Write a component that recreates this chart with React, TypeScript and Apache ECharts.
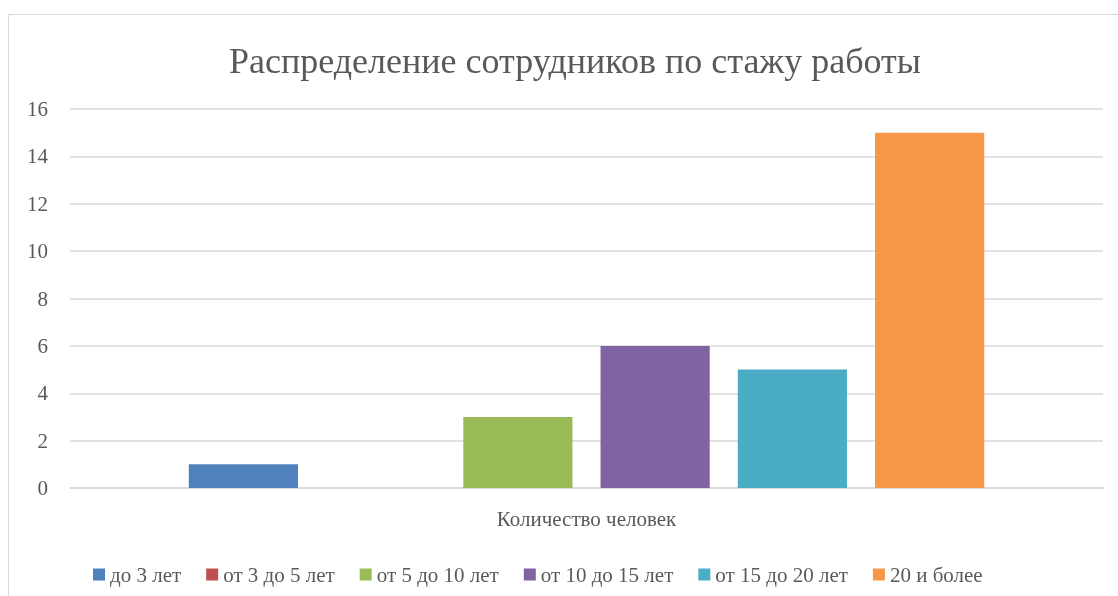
import React, { useEffect, useRef } from "react";
import * as echarts from "echarts";

const titleText = "Распределение сотрудников по стажу работы";
const categories = ["Количество человек"];
const seriesNames = ["до 3 лет", "от 3 до 5 лет", "от 5 до 10 лет", "от 10 до 15 лет", "от 15 до 20 лет", "20 и более"];
const seriesValues = [1, 0, 3, 6, 5, 15];
const seriesColors = ["#4F81BD", "#C0504D", "#9BBB59", "#8064A2", "#4BACC6", "#F79646"];
const yTicks = { min: 0, max: 16, interval: 2 };

const FONT = "Liberation Serif";
const TEXT = "#595959";

export default function App() {
  const ref = useRef<HTMLDivElement>(null);
  useEffect(() => {
    if (!ref.current) return;
    const chart = echarts.init(ref.current, null, { renderer: "svg" });
    chart.setOption({
      animation: false,
      title: {
        text: titleText,
        left: 570,
        textAlign: "center",
        top: 38,
        textStyle: { fontFamily: FONT, fontSize: 36, fontWeight: "normal", color: TEXT },
      },
      graphic: [
        {
          type: "rect",
          shape: { x: 8.5, y: 14.5, width: 1130, height: 600 },
          style: { fill: "none", stroke: "#d9d9d9", lineWidth: 1 },
          silent: true,
        },
      ],
      legend: {
        data: seriesNames,
        left: 88,
        top: 559,
        icon: "rect",
        itemWidth: 12,
        itemHeight: 12,
        itemGap: 25,
        textStyle: { fontFamily: FONT, fontSize: 21, color: TEXT },
      },
      grid: { left: 70, right: 15, top: 109, bottom: 108 },
      xAxis: {
        type: "category",
        data: categories,
        axisLine: { lineStyle: { color: "#d9d9d9", width: 1.5 } },
        axisTick: { show: false },
        axisLabel: { fontFamily: FONT, fontSize: 21, color: TEXT, margin: 20 },
      },
      yAxis: {
        type: "value",
        min: yTicks.min,
        max: yTicks.max,
        interval: yTicks.interval,
        axisLabel: { fontFamily: FONT, fontSize: 21, color: TEXT, margin: 22 },
        splitLine: { lineStyle: { color: "#d9d9d9", width: 1.5 } },
      },
      series: seriesNames.map((name, i) => ({
        name,
        type: "bar",
        data: [seriesValues[i]],
        itemStyle: { color: seriesColors[i] },
        barGap: "25.7%",
        barCategoryGap: "23%",
      })),
    });
    return () => chart.dispose();
  }, []);
  return <div ref={ref} style={{ position: "fixed", left: 0, top: 0, width: 1118, height: 596 }} />;
}
